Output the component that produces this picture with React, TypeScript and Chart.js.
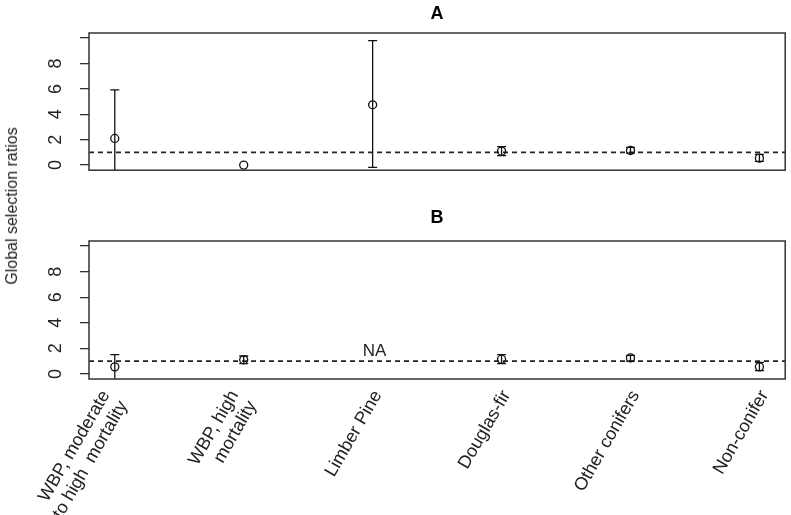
import { useEffect, useRef } from 'react';
import { Chart, registerables } from 'chart.js';

Chart.register(...registerables);

// ---------- data ----------
const categories: string[][] = [
  ['WBP, moderate', 'to high  mortality'],
  ['WBP, high', 'mortality'],
  ['Limber Pine'],
  ['Douglas-fir'],
  ['Other conifers'],
  ['Non-conifer'],
];

const yTicks = [0, 2, 4, 6, 8, 10];
const yTickLabels = ['0', '2', '4', '6', '8', ''];

const aValues = [2.1, 0, 4.75, 1.1, 1.15, 0.55];
const aLower: (number | null)[] = [-1.8, null, -0.18, 0.75, 0.95, 0.3];
const aUpper: (number | null)[] = [5.93, null, 9.8, 1.45, 1.4, 0.85];

const bValues: (number | null)[] = [0.55, 1.1, null, 1.15, 1.25, 0.55];
const bLower: (number | null)[] = [-0.8, 0.8, null, 0.8, 1.0, 0.25];
const bUpper: (number | null)[] = [1.5, 1.4, null, 1.5, 1.45, 0.9];

const referenceValue = 1;
const naNotes = [{ category: 3, value: 1.75, text: 'NA' }];

const yAxisTitle = 'Global selection ratios';

// ---------- helpers ----------
const FONT = '"Liberation Sans", Arial, Helvetica, sans-serif';
const X_MIN = 0.8;
const X_MAX = 6.2;
// multi-line rotated labels are centred on their tick (as R does), so their block is nudged
const MULTILINE_LABEL_SHIFT = 0.11;

function errorBarPoints(lower: (number | null)[], upper: (number | null)[]) {
  const pts: { x: number; y: number | null }[] = [];
  lower.forEach((lo, i) => {
    const hi = upper[i];
    if (lo == null || hi == null) return;
    pts.push({ x: i + 1, y: lo }, { x: i + 1, y: hi }, { x: i + 1, y: null });
  });
  return pts;
}

const boxPlugin = {
  id: 'panelBox',
  afterDraw(chart: any) {
    const { ctx, chartArea: a } = chart;
    ctx.save();
    ctx.strokeStyle = '#333';
    ctx.lineWidth = 1.5;
    ctx.strokeRect(a.left, a.top, a.right - a.left, a.bottom - a.top);
    ctx.restore();
  },
};

const notePlugin = {
  id: 'noteText',
  afterDatasetsDraw(chart: any, _args: any, opts: any) {
    const items = (opts && opts.items) || [];
    const { ctx } = chart;
    const xs = chart.scales.x;
    const ys = chart.scales.y;
    ctx.save();
    ctx.fillStyle = '#222';
    ctx.font = `17px ${FONT}`;
    ctx.textAlign = 'center';
    ctx.textBaseline = 'middle';
    items.forEach((it: any) => {
      ctx.fillText(it.text, xs.getPixelForValue(it.category) + 2, ys.getPixelForValue(it.value));
    });
    ctx.restore();
  },
};

function makeConfig(panel: {
  title: string;
  values: (number | null)[];
  lower: (number | null)[];
  upper: (number | null)[];
  showX: boolean;
  titlePad: { top: number; bottom: number };
  bottomPad: number;
  xHeight: number;
  notes: any[];
}) {
  return {
    type: 'scatter',
    data: {
      datasets: [
        {
          type: 'scatter',
          data: panel.values.map((v, i) => ({ x: i + 1, y: v })),
          pointStyle: 'circle',
          pointRadius: 4,
          pointBorderWidth: 1.3,
          pointBorderColor: '#111',
          pointBackgroundColor: 'rgba(0,0,0,0)',
          showLine: false,
        },
        {
          type: 'line',
          data: errorBarPoints(panel.lower, panel.upper),
          borderColor: '#111',
          borderWidth: 1.3,
          spanGaps: false,
          pointStyle: 'line',
          pointRadius: 4.5,
          pointBorderWidth: 1.3,
          pointBorderColor: '#111',
          fill: false,
        },
        {
          type: 'line',
          data: [
            { x: X_MIN, y: referenceValue },
            { x: X_MAX, y: referenceValue },
          ],
          borderColor: '#222',
          borderWidth: 1.6,
          borderDash: [5, 4],
          pointRadius: 0,
          fill: false,
        },
      ],
    },
    options: {
      responsive: false,
      animation: false,
      events: [],
      layout: { padding: { left: 0, right: 3, top: 0, bottom: panel.bottomPad } },
      plugins: {
        legend: { display: false },
        tooltip: { enabled: false },
        title: {
          display: true,
          text: panel.title,
          fullSize: false,
          color: '#000',
          font: { family: FONT, size: 18, weight: 'bold', lineHeight: 1.2 },
          padding: panel.titlePad,
        },
        noteText: { items: panel.notes },
      },
      scales: {
        x: {
          type: 'linear',
          display: panel.showX,
          min: X_MIN,
          max: X_MAX,
          bounds: 'data',
          afterBuildTicks: (s: any) => {
            s.ticks = categories.map((lines, i) => ({
              value: i + 1 - (lines.length - 1) * MULTILINE_LABEL_SHIFT,
            }));
          },
          afterFit: (s: any) => {
            s.height = panel.xHeight;
          },
          ticks: {
            callback: (_v: any, i: number) => categories[i],
            minRotation: 60,
            maxRotation: 60,
            autoSkip: false,
            padding: 8,
            labelOffset: 5,
            color: '#222',
            font: { family: FONT, size: 18, lineHeight: 1.15 },
          },
          grid: { display: false, drawTicks: false },
          border: { display: false },
        },
        y: {
          type: 'linear',
          min: -0.4,
          max: 10.4,
          bounds: 'data',
          afterBuildTicks: (s: any) => {
            s.ticks = yTicks.map((v) => ({ value: v }));
          },
          afterFit: (s: any) => {
            s.width = 89;
          },
          ticks: {
            callback: (_v: any, i: number) => yTickLabels[i],
            minRotation: 90,
            maxRotation: 90,
            crossAlign: 'center',
            padding: 19,
            color: '#222',
            font: { family: FONT, size: 18 },
          },
          grid: {
            drawOnChartArea: false,
            drawTicks: true,
            tickLength: 9,
            color: '#333',
            lineWidth: 1.3,
          },
          border: { display: false },
        },
      },
    },
    plugins: [boxPlugin, notePlugin],
  } as any;
}

function Panel(props: { config: any; top: number; height: number }) {
  const ref = useRef<HTMLCanvasElement | null>(null);
  useEffect(() => {
    if (!ref.current) return;
    const chart = new Chart(ref.current, props.config);
    return () => chart.destroy();
  }, []);
  return (
    <canvas
      ref={ref}
      width={791}
      height={props.height}
      style={{ position: 'absolute', left: 0, top: props.top, width: 791, height: props.height }}
    />
  );
}

export default function App() {
  const configA = makeConfig({
    title: 'A',
    values: aValues,
    lower: aLower,
    upper: aUpper,
    showX: false,
    titlePad: { top: 3, bottom: 8.4 },
    bottomPad: 29,
    xHeight: 0,
    notes: [],
  });
  const configB = makeConfig({
    title: 'B',
    values: bValues,
    lower: bLower,
    upper: bUpper,
    showX: true,
    titlePad: { top: 7, bottom: 12.4 },
    bottomPad: 0,
    xHeight: 136,
    notes: naNotes,
  });
  return (
    <div
      style={{
        position: 'fixed',
        left: 0,
        top: 0,
        width: 791,
        height: 515,
        background: '#fff',
        overflow: 'hidden',
      }}
    >
      <Panel config={configA} top={0} height={200} />
      <Panel config={configB} top={200} height={315} />
      <div
        style={{
          position: 'absolute',
          left: 12,
          top: 206,
          transform: 'translate(-50%, -50%) rotate(-90deg)',
          whiteSpace: 'nowrap',
          fontFamily: FONT,
          fontSize: 16,
          color: '#222',
        }}
      >
        {yAxisTitle}
      </div>
    </div>
  );
}
